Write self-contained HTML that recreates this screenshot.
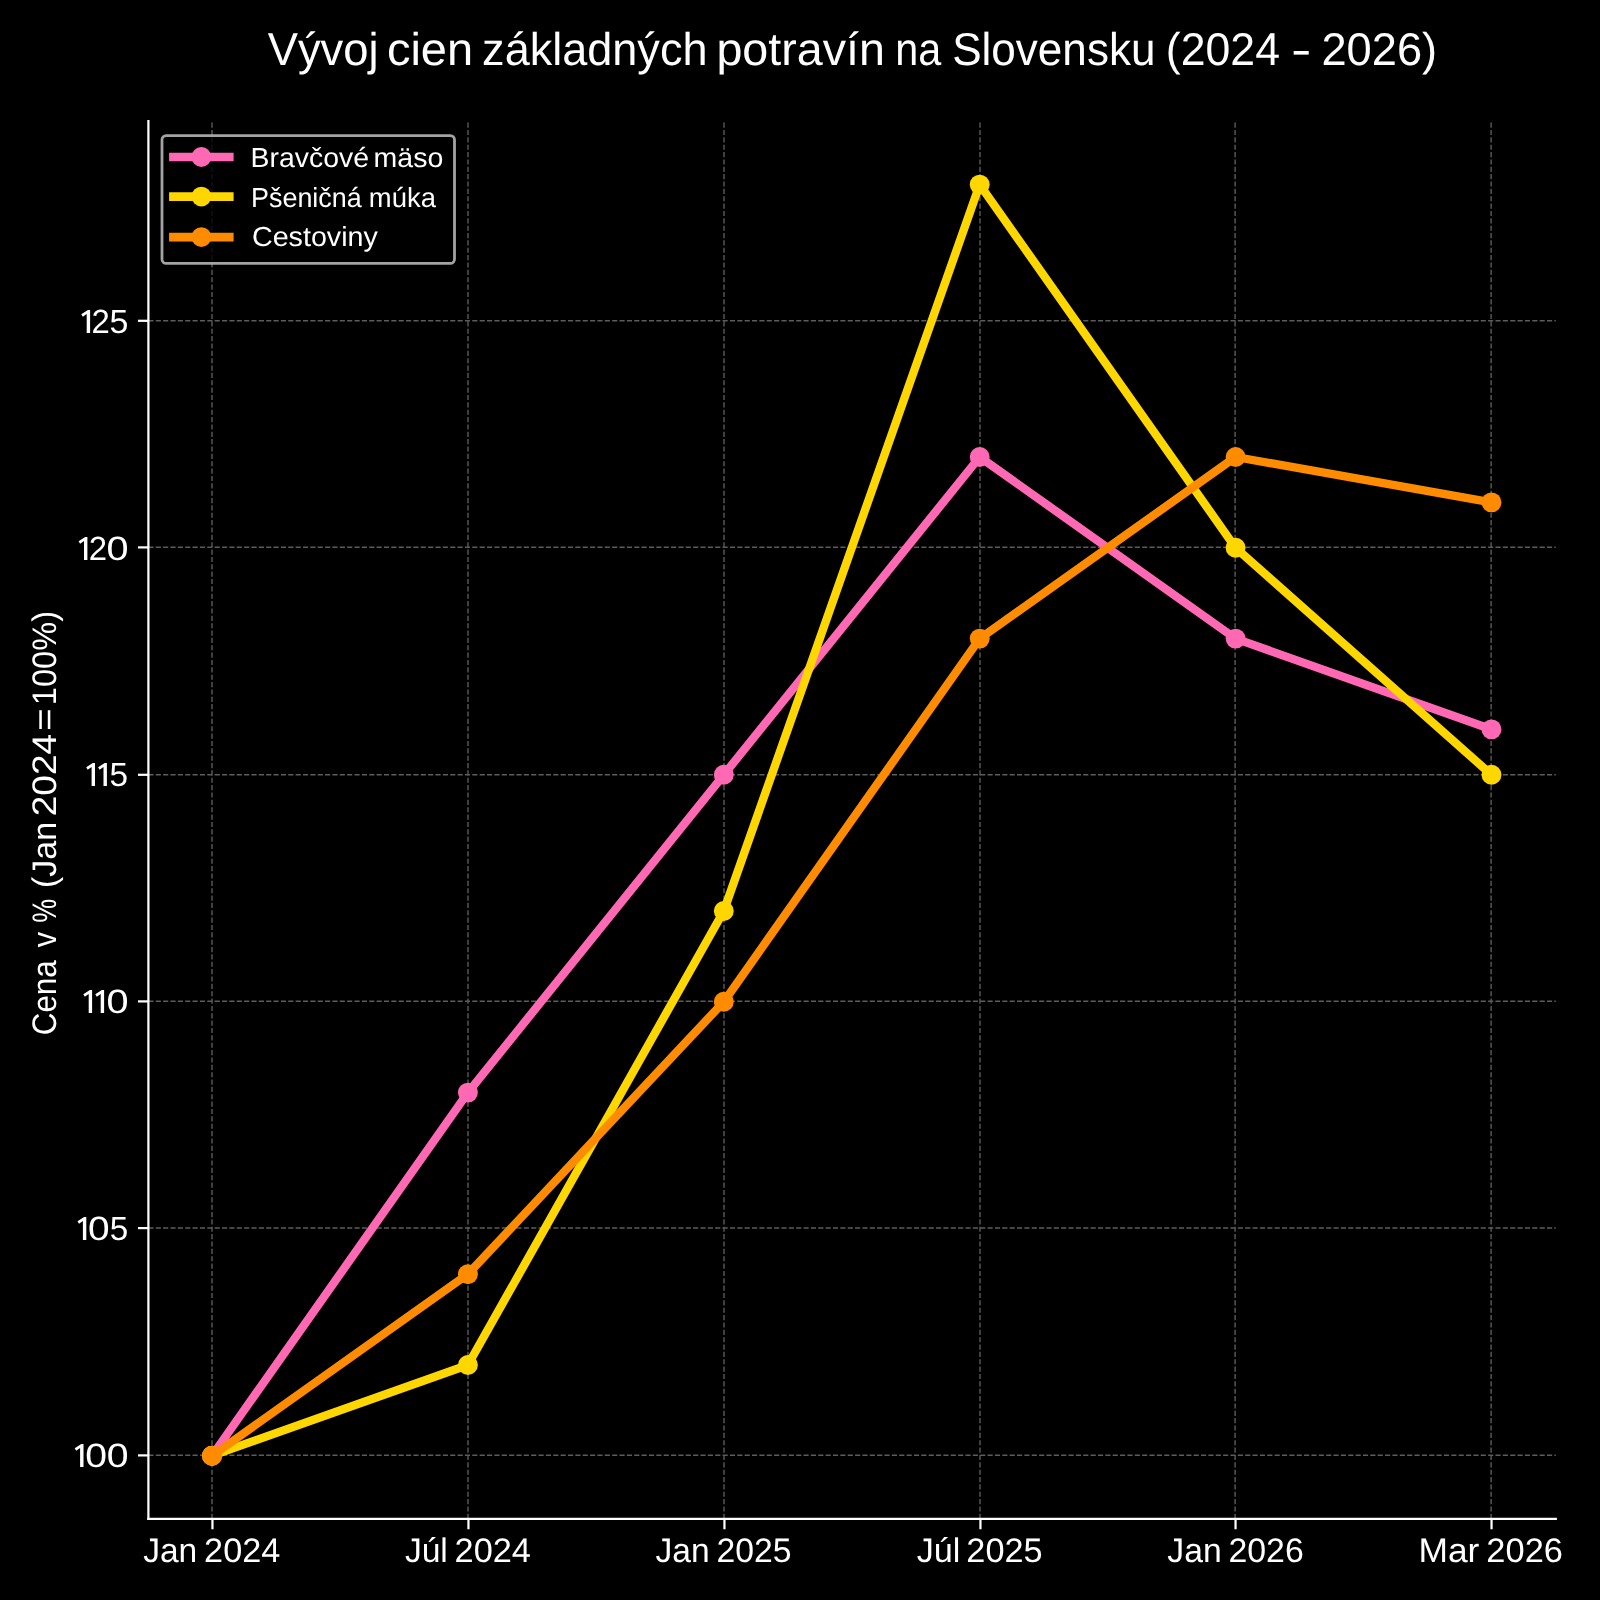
<!DOCTYPE html>
<html lang="sk"><head><meta charset="utf-8"><title>Vývoj cien základných potravín na Slovensku</title>
<style>html,body{margin:0;padding:0;background:#000;}body{width:1600px;height:1600px;overflow:hidden;}svg{display:block;}text{font-family:"Liberation Sans",sans-serif;fill:#fff;text-rendering:geometricPrecision;}</style></head><body>
<svg width="1600" height="1600" viewBox="0 0 1600 1600">
<rect width="1600" height="1600" fill="#000"/>
<g stroke="#5c5c5c" stroke-width="1.39" stroke-dasharray="5.139 2.222" fill="none">
<line x1="212.00" y1="1518.95" x2="212.00" y2="121.20"/>
<line x1="468.00" y1="1518.95" x2="468.00" y2="121.20"/>
<line x1="724.00" y1="1518.95" x2="724.00" y2="121.20"/>
<line x1="980.00" y1="1518.95" x2="980.00" y2="121.20"/>
<line x1="1235.10" y1="1518.95" x2="1235.10" y2="121.20"/>
<line x1="1491.10" y1="1518.95" x2="1491.10" y2="121.20"/>
<line x1="148.40" y1="1455.30" x2="1555.80" y2="1455.30"/>
<line x1="148.40" y1="1228.00" x2="1555.80" y2="1228.00"/>
<line x1="148.40" y1="1001.30" x2="1555.80" y2="1001.30"/>
<line x1="148.40" y1="774.70" x2="1555.80" y2="774.70"/>
<line x1="148.40" y1="547.30" x2="1555.80" y2="547.30"/>
<line x1="148.40" y1="320.70" x2="1555.80" y2="320.70"/>
</g>
<polyline points="212.00,1455.80 467.90,1092.60 723.80,774.80 979.70,457.00 1235.60,638.60 1491.50,729.40" fill="none" stroke="#FF69B4" stroke-width="8.33" stroke-linejoin="round" stroke-linecap="square"/>
<circle cx="212.00" cy="1455.80" r="9.95" fill="#FF69B4"/>
<circle cx="467.90" cy="1092.60" r="9.95" fill="#FF69B4"/>
<circle cx="723.80" cy="774.80" r="9.95" fill="#FF69B4"/>
<circle cx="979.70" cy="457.00" r="9.95" fill="#FF69B4"/>
<circle cx="1235.60" cy="638.60" r="9.95" fill="#FF69B4"/>
<circle cx="1491.50" cy="729.40" r="9.95" fill="#FF69B4"/>
<polyline points="212.00,1455.80 467.90,1365.00 723.80,911.00 979.70,184.60 1235.60,547.80 1491.50,774.80" fill="none" stroke="#FFD700" stroke-width="8.33" stroke-linejoin="round" stroke-linecap="square"/>
<circle cx="212.00" cy="1455.80" r="9.95" fill="#FFD700"/>
<circle cx="467.90" cy="1365.00" r="9.95" fill="#FFD700"/>
<circle cx="723.80" cy="911.00" r="9.95" fill="#FFD700"/>
<circle cx="979.70" cy="184.60" r="9.95" fill="#FFD700"/>
<circle cx="1235.60" cy="547.80" r="9.95" fill="#FFD700"/>
<circle cx="1491.50" cy="774.80" r="9.95" fill="#FFD700"/>
<polyline points="212.00,1455.80 467.90,1274.20 723.80,1001.80 979.70,638.60 1235.60,457.00 1491.50,502.40" fill="none" stroke="#FF8C00" stroke-width="8.33" stroke-linejoin="round" stroke-linecap="square"/>
<circle cx="212.00" cy="1455.80" r="9.95" fill="#FF8C00"/>
<circle cx="467.90" cy="1274.20" r="9.95" fill="#FF8C00"/>
<circle cx="723.80" cy="1001.80" r="9.95" fill="#FF8C00"/>
<circle cx="979.70" cy="638.60" r="9.95" fill="#FF8C00"/>
<circle cx="1235.60" cy="457.00" r="9.95" fill="#FF8C00"/>
<circle cx="1491.50" cy="502.40" r="9.95" fill="#FF8C00"/>
<g stroke="#fff" stroke-width="2.22" fill="none" stroke-linecap="square">
<line x1="148.4" y1="121.2" x2="148.4" y2="1518.95"/>
<line x1="148.4" y1="1518.95" x2="1555.8" y2="1518.95"/>
</g>
<g stroke="#fff" stroke-width="2.22" fill="none">
<line x1="212.45" y1="1518.95" x2="212.45" y2="1529.25"/>
<line x1="468.45" y1="1518.95" x2="468.45" y2="1529.25"/>
<line x1="724.45" y1="1518.95" x2="724.45" y2="1529.25"/>
<line x1="980.45" y1="1518.95" x2="980.45" y2="1529.25"/>
<line x1="1235.55" y1="1518.95" x2="1235.55" y2="1529.25"/>
<line x1="1491.55" y1="1518.95" x2="1491.55" y2="1529.25"/>
<line x1="148.4" y1="1455.40" x2="138.00" y2="1455.40"/>
<line x1="148.4" y1="1228.10" x2="138.00" y2="1228.10"/>
<line x1="148.4" y1="1001.40" x2="138.00" y2="1001.40"/>
<line x1="148.4" y1="774.80" x2="138.00" y2="774.80"/>
<line x1="148.4" y1="547.40" x2="138.00" y2="547.40"/>
<line x1="148.4" y1="320.80" x2="138.00" y2="320.80"/>
</g>
<rect x="162.0" y="135.6" width="292.5" height="127.85" rx="4.2" ry="4.2" fill="#000" fill-opacity="0.8" stroke="#ccc" stroke-opacity="0.8" stroke-width="2.78"/>
<line x1="169.1" y1="157.0" x2="233.6" y2="157.0" stroke="#FF69B4" stroke-width="8.6"/>
<circle cx="201.4" cy="157.0" r="9.9" fill="#FF69B4"/>
<line x1="169.1" y1="196.6" x2="233.6" y2="196.6" stroke="#FFD700" stroke-width="8.6"/>
<circle cx="201.4" cy="196.6" r="9.9" fill="#FFD700"/>
<line x1="169.1" y1="237.1" x2="233.6" y2="237.1" stroke="#FF8C00" stroke-width="8.6"/>
<circle cx="201.4" cy="237.1" r="9.9" fill="#FF8C00"/>
<g style="filter:grayscale(1)">
<text x="267.74" y="65.00" font-size="46.0" textLength="110.82" lengthAdjust="spacingAndGlyphs">Vývoj</text>
<text x="386.91" y="65.00" font-size="46.0" textLength="86.20" lengthAdjust="spacingAndGlyphs">cien</text>
<text x="482.12" y="65.00" font-size="46.0" textLength="225.36" lengthAdjust="spacingAndGlyphs">základných</text>
<text x="716.45" y="65.00" font-size="46.0" textLength="168.52" lengthAdjust="spacingAndGlyphs">potravín</text>
<text x="895.21" y="65.00" font-size="46.0" textLength="45.95" lengthAdjust="spacingAndGlyphs">na</text>
<text x="952.15" y="65.00" font-size="46.0" textLength="203.31" lengthAdjust="spacingAndGlyphs">Slovensku</text>
<text x="1165.85" y="65.00" font-size="46.0" textLength="114.11" lengthAdjust="spacingAndGlyphs">(2024</text>
<text x="1291.00" y="65.00" font-size="46.0" textLength="20.39" lengthAdjust="spacingAndGlyphs">-</text>
<text x="1321.45" y="65.00" font-size="46.0" textLength="115.72" lengthAdjust="spacingAndGlyphs">2026)</text>
<text x="143.20" y="1562.00" font-size="34.0" textLength="54.07" lengthAdjust="spacingAndGlyphs">Jan</text>
<text x="204.07" y="1562.00" font-size="34.0" textLength="76.26" lengthAdjust="spacingAndGlyphs">2024</text>
<text x="404.92" y="1562.00" font-size="34.0" textLength="42.93" lengthAdjust="spacingAndGlyphs">Júl</text>
<text x="454.55" y="1562.00" font-size="34.0" textLength="76.41" lengthAdjust="spacingAndGlyphs">2024</text>
<text x="655.45" y="1562.00" font-size="34.0" textLength="54.14" lengthAdjust="spacingAndGlyphs">Jan</text>
<text x="716.43" y="1562.00" font-size="34.0" textLength="75.03" lengthAdjust="spacingAndGlyphs">2025</text>
<text x="916.79" y="1562.00" font-size="34.0" textLength="43.56" lengthAdjust="spacingAndGlyphs">Júl</text>
<text x="966.38" y="1562.00" font-size="34.0" textLength="76.32" lengthAdjust="spacingAndGlyphs">2025</text>
<text x="1167.30" y="1562.00" font-size="34.0" textLength="54.34" lengthAdjust="spacingAndGlyphs">Jan</text>
<text x="1228.45" y="1562.00" font-size="34.0" textLength="75.29" lengthAdjust="spacingAndGlyphs">2026</text>
<text x="1418.41" y="1562.00" font-size="34.0" textLength="60.97" lengthAdjust="spacingAndGlyphs">Mar</text>
<text x="1486.36" y="1562.00" font-size="34.0" textLength="76.56" lengthAdjust="spacingAndGlyphs">2026</text>
<text x="250.60" y="166.90" font-size="27.5" textLength="118.37" lengthAdjust="spacingAndGlyphs">Bravčové</text>
<text x="373.55" y="166.90" font-size="27.5" textLength="69.69" lengthAdjust="spacingAndGlyphs">mäso</text>
<text x="251.04" y="206.70" font-size="27.5" textLength="110.66" lengthAdjust="spacingAndGlyphs">Pšeničná</text>
<text x="368.84" y="206.70" font-size="27.5" textLength="67.07" lengthAdjust="spacingAndGlyphs">múka</text>
<text x="251.97" y="246.20" font-size="27.5" textLength="125.84" lengthAdjust="spacingAndGlyphs">Cestoviny</text>
<text transform="translate(55.9,1035.25) rotate(-90)" font-size="34.0" textLength="75.02" lengthAdjust="spacingAndGlyphs">Cena</text>
<text transform="translate(55.9,947.24) rotate(-90)" font-size="34.0" textLength="15.41" lengthAdjust="spacingAndGlyphs">v</text>
<text transform="translate(55.9,922.71) rotate(-90)" font-size="34.0" textLength="24.04" lengthAdjust="spacingAndGlyphs">%</text>
<text transform="translate(55.9,888.00) rotate(-90)" font-size="34.0" textLength="66.10" lengthAdjust="spacingAndGlyphs">(Jan</text>
<text transform="translate(55.9,816.22) rotate(-90)" font-size="34.0" textLength="82.33" lengthAdjust="spacingAndGlyphs">2024</text>
<text transform="translate(55.9,730.76) rotate(-90)" font-size="34.0" textLength="22.35" lengthAdjust="spacingAndGlyphs">=</text>
<text transform="translate(55.9,705.18) rotate(-90)" font-size="34.0" textLength="94.26" lengthAdjust="spacingAndGlyphs">100%)</text>
<path d="M83.50,1467 L83.50,1443.90 L81.30,1443.90 L74.70,1448.20 L76.20,1450.70 L80.10,1448.10 L80.10,1467 Z" fill="#fff"/>
<text x="85.17" y="1467" font-size="33.6" textLength="21.76" lengthAdjust="spacingAndGlyphs">0</text>
<text x="106.72" y="1467" font-size="33.6" textLength="21.81" lengthAdjust="spacingAndGlyphs">0</text>
<path d="M86.30,1240 L86.30,1216.90 L84.10,1216.90 L77.50,1221.20 L79.00,1223.70 L82.90,1221.10 L82.90,1240 Z" fill="#fff"/>
<text x="87.98" y="1240" font-size="33.6" textLength="21.59" lengthAdjust="spacingAndGlyphs">0</text>
<text x="109.73" y="1240" font-size="33.6" textLength="18.46" lengthAdjust="spacingAndGlyphs">5</text>
<path d="M92.10,1013 L92.10,989.90 L89.90,989.90 L83.30,994.20 L84.80,996.70 L88.70,994.10 L88.70,1013 Z" fill="#fff"/>
<path d="M104.10,1013 L104.10,989.90 L101.90,989.90 L95.30,994.20 L96.80,996.70 L100.70,994.10 L100.70,1013 Z" fill="#fff"/>
<text x="106.51" y="1013" font-size="33.6" textLength="22.04" lengthAdjust="spacingAndGlyphs">0</text>
<path d="M95.00,786 L95.00,762.90 L92.80,762.90 L86.20,767.20 L87.70,769.70 L91.60,767.10 L91.60,786 Z" fill="#fff"/>
<path d="M106.90,786 L106.90,762.90 L104.70,762.90 L98.10,767.20 L99.60,769.70 L103.50,767.10 L103.50,786 Z" fill="#fff"/>
<text x="109.47" y="786" font-size="33.6" textLength="18.53" lengthAdjust="spacingAndGlyphs">5</text>
<path d="M87.40,560 L87.40,536.90 L85.20,536.90 L78.60,541.20 L80.10,543.70 L84.00,541.10 L84.00,560 Z" fill="#fff"/>
<text x="88.74" y="560" font-size="33.6" textLength="18.31" lengthAdjust="spacingAndGlyphs">2</text>
<text x="106.51" y="560" font-size="33.6" textLength="22.04" lengthAdjust="spacingAndGlyphs">0</text>
<path d="M90.10,333 L90.10,309.90 L87.90,309.90 L81.30,314.20 L82.80,316.70 L86.70,314.10 L86.70,333 Z" fill="#fff"/>
<text x="91.40" y="333" font-size="33.6" textLength="18.31" lengthAdjust="spacingAndGlyphs">2</text>
<text x="109.54" y="333" font-size="33.6" textLength="18.89" lengthAdjust="spacingAndGlyphs">5</text>
</g>
</svg></body></html>
